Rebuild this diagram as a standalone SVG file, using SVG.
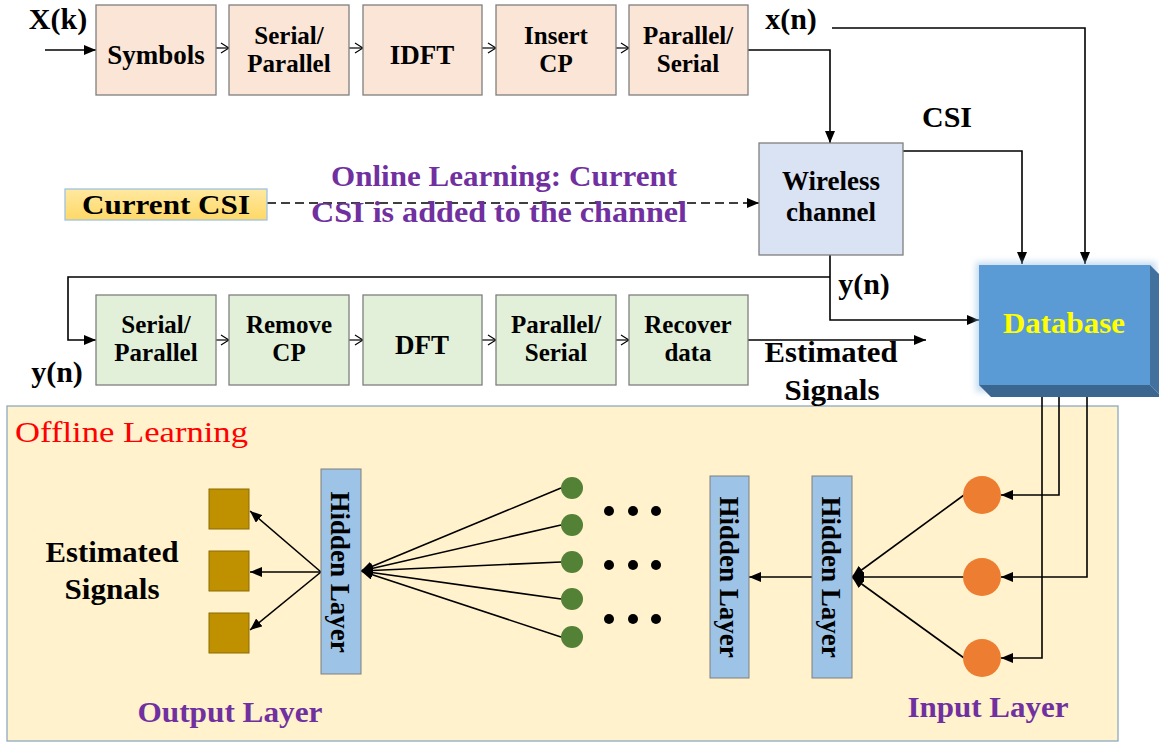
<svg xmlns="http://www.w3.org/2000/svg" width="1159" height="743" viewBox="0 0 1159 743">
<style>
.t{font-family:"Liberation Serif","Times New Roman",serif;font-weight:bold;fill:#000;text-anchor:middle}
.bx{font-size:25px}
.b1{font-size:27px}
.pk{fill:#FBE5D6;stroke:#7F7F7F;stroke-width:1.3}
.gn{fill:#E2F0D9;stroke:#7F7F7F;stroke-width:1.3}
.hl{fill:#9DC3E6;stroke:#7F7F7F;stroke-width:1}
.ln{fill:none;stroke:#000;stroke-width:1.6}
.th{fill:none;stroke:#000;stroke-width:1.2}
.pu{fill:#7030A0}
</style>
<defs>
<marker id="fa" viewBox="0 0 12 10" refX="12" refY="5" markerWidth="12" markerHeight="10" markerUnits="userSpaceOnUse" orient="auto">
<path d="M0,0 L12,5 L0,10 z" fill="#000"/>
</marker>
<marker id="oa" viewBox="0 0 10 12" refX="9" refY="6" markerWidth="10" markerHeight="12" markerUnits="userSpaceOnUse" orient="auto">
<path d="M1,1 L9,6 L1,11" fill="none" stroke="#000" stroke-width="1.2"/>
</marker>
<linearGradient id="csig" x1="0" y1="0" x2="0" y2="1">
<stop offset="0" stop-color="#FFE8A0"/><stop offset="1" stop-color="#FFD966"/>
</linearGradient>
<filter id="glow" x="-10%" y="-10%" width="120%" height="120%">
<feGaussianBlur stdDeviation="3"/>
</filter>
</defs>
<rect width="1159" height="743" fill="#fff"/>

<!-- offline learning panel -->
<g id="offline">
<rect x="7" y="406" width="1111" height="335" fill="#FFF2CC" stroke="#8EA9C1" stroke-width="1.3"/>
<text x="15" y="442" font-family="'Liberation Serif',serif" font-size="30" fill="#FF0000" textLength="233" lengthAdjust="spacingAndGlyphs">Offline Learning</text>
</g>

<!-- connectors -->
<g id="connectors">
<path class="ln" d="M45,50 H96" marker-end="url(#fa)"/>
<path class="th" d="M216,48 H229" marker-end="url(#oa)"/>
<path class="th" d="M349,48 H363" marker-end="url(#oa)"/>
<path class="th" d="M482,48 H496" marker-end="url(#oa)"/>
<path class="th" d="M616,48 H629" marker-end="url(#oa)"/>
<path class="ln" d="M748,50 H830 V143" marker-end="url(#fa)"/>
<path class="ln" d="M832,28 H1085 V264" marker-end="url(#fa)"/>
<path class="ln" d="M903,151 H1022 V264" marker-end="url(#fa)"/>
<path class="ln" d="M267,203 H759" stroke-dasharray="9,5" marker-end="url(#fa)"/>
<path class="ln" d="M830,255 V320 H979" marker-end="url(#fa)"/>
<path class="ln" d="M830,277 H68 V340 H96" marker-end="url(#fa)"/>
<path class="th" d="M216,340 H229" marker-end="url(#oa)"/>
<path class="th" d="M349,340 H363" marker-end="url(#oa)"/>
<path class="th" d="M482,340 H496" marker-end="url(#oa)"/>
<path class="th" d="M616,340 H629" marker-end="url(#oa)"/>
<path class="ln" d="M748,340 H926" marker-end="url(#fa)"/>
<path class="ln" d="M1059,397 V495 H1001" marker-end="url(#fa)"/>
<path class="ln" d="M1087,397 V577 H1001" marker-end="url(#fa)"/>
<path class="ln" d="M1042,397 V658 H1001" marker-end="url(#fa)"/>
<path class="ln" d="M964,495 L852,577" marker-end="url(#fa)"/>
<path class="ln" d="M964,577 L852,577" marker-end="url(#fa)"/>
<path class="ln" d="M964,658 L852,577" marker-end="url(#fa)"/>
<path class="ln" d="M812,577 H749" marker-end="url(#fa)"/>
<path class="ln" d="M561,488 L361,571" marker-end="url(#fa)"/>
<path class="ln" d="M561,525 L361,571" marker-end="url(#fa)"/>
<path class="ln" d="M561,562 L361,571" marker-end="url(#fa)"/>
<path class="ln" d="M561,599 L361,571" marker-end="url(#fa)"/>
<path class="ln" d="M561,637 L361,571" marker-end="url(#fa)"/>
<path class="ln" d="M321,572 L250,511" marker-end="url(#fa)"/>
<path class="ln" d="M321,572 L250,572" marker-end="url(#fa)"/>
<path class="ln" d="M321,572 L250,630" marker-end="url(#fa)"/>
</g>

<!-- labels -->
<g id="labels">
<text class="t" x="58" y="29" font-size="30">X(k)</text>
<text class="t" x="791" y="29" font-size="30">x(n)</text>
<text class="t" x="947" y="127" font-size="30">CSI</text>
<text class="t" x="864" y="294" font-size="30">y(n)</text>
<text class="t" x="57" y="382" font-size="30">y(n)</text>
<text class="t" x="831" y="362" font-size="29" textLength="133" lengthAdjust="spacingAndGlyphs">Estimated</text>
<text class="t" x="832" y="400" font-size="29" textLength="95" lengthAdjust="spacingAndGlyphs">Signals</text>
<text class="t pu" x="504" y="186" font-size="30" textLength="346" lengthAdjust="spacingAndGlyphs">Online Learning: Current</text>
<text class="t pu" x="499" y="222" font-size="30" textLength="376" lengthAdjust="spacingAndGlyphs">CSI is added to the channel</text>
<text class="t" x="112" y="562" font-size="29" textLength="133" lengthAdjust="spacingAndGlyphs">Estimated</text>
<text class="t" x="112" y="599" font-size="29" textLength="95" lengthAdjust="spacingAndGlyphs">Signals</text>
<text class="t pu" x="230" y="722" font-size="29" textLength="185" lengthAdjust="spacingAndGlyphs">Output Layer</text>
<text class="t pu" x="988" y="717" font-size="29" textLength="161" lengthAdjust="spacingAndGlyphs">Input Layer</text>
</g>

<!-- transmitter -->
<g id="symbols"><rect class="pk" x="96" y="5" width="120" height="90"/><text class="t b1" x="156" y="64">Symbols</text></g>
<g id="sp1"><rect class="pk" x="229" y="5" width="120" height="90"/><text class="t bx" x="289" y="44">Serial/</text><text class="t bx" x="289" y="72">Parallel</text></g>
<g id="idft"><rect class="pk" x="363" y="5" width="119" height="90"/><text class="t b1" x="422" y="64">IDFT</text></g>
<g id="insertcp"><rect class="pk" x="496" y="5" width="120" height="90"/><text class="t bx" x="556" y="44">Insert</text><text class="t bx" x="556" y="72">CP</text></g>
<g id="ps1"><rect class="pk" x="629" y="5" width="119" height="90"/><text class="t bx" x="688" y="44">Parallel/</text><text class="t bx" x="688" y="72">Serial</text></g>

<g id="wireless"><rect x="759" y="143" width="144" height="112" fill="#DAE3F3" stroke="#7F7F7F" stroke-width="1.3"/><text class="t b1" x="831" y="190">Wireless</text><text class="t b1" x="831" y="221">channel</text></g>

<g id="currentcsi"><rect x="65" y="189" width="202" height="31" fill="url(#csig)" stroke="#9DC3E6" stroke-width="1.3"/><text class="t" x="166" y="214" font-size="27" textLength="168" lengthAdjust="spacingAndGlyphs">Current CSI</text></g>

<!-- receiver -->
<g id="sp2"><rect class="gn" x="96" y="295" width="120" height="90"/><text class="t bx" x="156" y="333">Serial/</text><text class="t bx" x="156" y="361">Parallel</text></g>
<g id="removecp"><rect class="gn" x="229" y="295" width="120" height="90"/><text class="t bx" x="289" y="333">Remove</text><text class="t bx" x="289" y="361">CP</text></g>
<g id="dft"><rect class="gn" x="363" y="295" width="119" height="90"/><text class="t b1" x="422" y="354">DFT</text></g>
<g id="ps2"><rect class="gn" x="496" y="295" width="120" height="90"/><text class="t bx" x="556" y="333">Parallel/</text><text class="t bx" x="556" y="361">Serial</text></g>
<g id="recover"><rect class="gn" x="629" y="295" width="119" height="90"/><text class="t bx" x="688" y="333">Recover</text><text class="t bx" x="688" y="361">data</text></g>

<!-- database -->
<g id="database">
<rect x="976" y="262" width="180" height="130" fill="#9DC3E6" opacity="0.6" filter="url(#glow)"/>
<polygon points="1150,265 1162,277 1162,397 1150,385" fill="#41719C"/>
<polygon points="979,385 1150,385 1162,397 991,397" fill="#3A6690"/>
<rect x="979" y="265" width="171" height="120" fill="#5B9BD5"/>
<text class="t" x="1064" y="333" font-size="29" style="fill:#FFFF00" textLength="122" lengthAdjust="spacingAndGlyphs">Database</text>
</g>

<!-- neural network -->
<g id="outputs">
<rect x="209" y="489" width="40" height="40" fill="#BF9000" stroke="#8C6A00" stroke-width="1"/>
<rect x="209" y="551" width="40" height="40" fill="#BF9000" stroke="#8C6A00" stroke-width="1"/>
<rect x="209" y="613" width="40" height="40" fill="#BF9000" stroke="#8C6A00" stroke-width="1"/>
</g>
<g id="hidden3"><rect class="hl" x="321" y="469" width="40" height="205"/><text class="t" font-size="27" transform="translate(341,572) rotate(90)" x="0" y="10">Hidden Layer</text></g>
<g id="hidden2"><rect class="hl" x="710" y="476" width="39" height="202" stroke="none"/><text class="t" font-size="27" transform="translate(729.5,577) rotate(90)" x="0" y="10">Hidden Layer</text></g>
<g id="hidden1"><rect class="hl" x="812" y="476" width="40" height="202" stroke="none"/><text class="t" font-size="27" transform="translate(832,577) rotate(90)" x="0" y="10">Hidden Layer</text></g>
<g id="greennodes" fill="#538135">
<circle cx="572" cy="488" r="11"/><circle cx="572" cy="525" r="11"/><circle cx="572" cy="562" r="11"/><circle cx="572" cy="599" r="11"/><circle cx="572" cy="637" r="11"/>
</g>
<g id="dots" fill="#000">
<circle cx="609" cy="511" r="5"/><circle cx="633" cy="511" r="5"/><circle cx="656" cy="511" r="5"/>
<circle cx="609" cy="565" r="5"/><circle cx="633" cy="565" r="5"/><circle cx="656" cy="565" r="5"/>
<circle cx="609" cy="619" r="5"/><circle cx="633" cy="619" r="5"/><circle cx="656" cy="619" r="5"/>
</g>
<g id="inputs" fill="#ED7D31">
<circle cx="982" cy="495" r="19"/><circle cx="982" cy="577" r="19"/><circle cx="982" cy="658" r="19"/>
</g>
</svg>
